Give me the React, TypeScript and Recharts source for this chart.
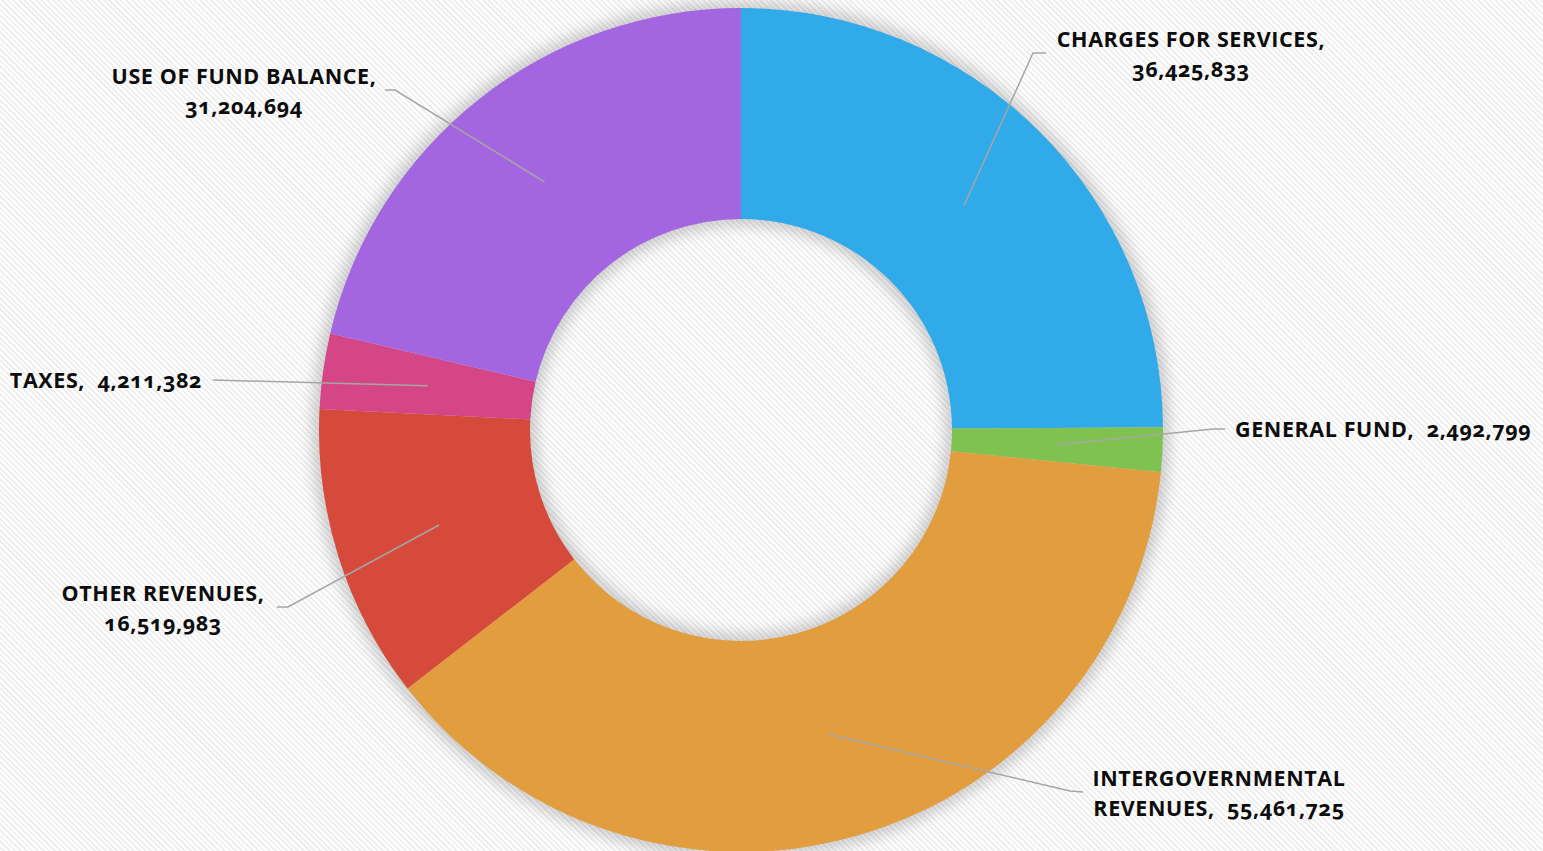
import React from "react";
import { PieChart, Pie, Cell } from "recharts";

const CATEGORIES = [
  "CHARGES FOR SERVICES",
  "GENERAL FUND",
  "INTERGOVERNMENTAL REVENUES",
  "OTHER REVENUES",
  "TAXES",
  "USE OF FUND BALANCE",
];
const AMOUNTS = [36425833, 2492799, 55461725, 16519983, 4211382, 31204694];
const COLORS = ["#31AAE9", "#80C250", "#E29D3F", "#D54A3A", "#D54687", "#A466E0"];

// label placement, relative to the donut centre
// split: "value" = value on second line, "word" = break after first word, "none" = one line
const LABEL_LAYOUT = [
  { elbow: [292, -377], end: [305, -377], text: [450, -383], anchor: "middle", split: "value" },
  { elbow: [472, -1], end: [484, -1], text: [494, 7], anchor: "start", split: "none" },
  { elbow: [329, 361], end: [342, 362], text: [478, 356], anchor: "middle", split: "word" },
  { elbow: [-453, 177], end: [-464, 177], text: [-578, 171], anchor: "middle", split: "value" },
  { elbow: [-528, -50], end: [-528, -50], text: [-539, -42], anchor: "end", split: "none" },
  { elbow: [-346, -340], end: [-356, -340], text: [-497, -346], anchor: "middle", split: "value" },
];

const data = CATEGORIES.map((name, i) => ({ name, value: AMOUNTS[i] }));
const ring = [{ name: "ring", value: 1 }];

const fmt = (v: number) => v.toLocaleString("en-US");
const RAD = Math.PI / 180;

const renderLabel = (props: any) => {
  const { cx, cy, midAngle, innerRadius, outerRadius, name, value } = props;
  const i = CATEGORIES.indexOf(name);
  const lay = LABEL_LAYOUT[i];
  if (!lay) return null;
  const r = (innerRadius + outerRadius) / 2;
  const sx = cx + r * Math.cos(-midAngle * RAD);
  const sy = cy + r * Math.sin(-midAngle * RAD);
  const ex = cx + lay.elbow[0];
  const ey = cy + lay.elbow[1];
  const hx = cx + lay.end[0];
  const hy = cy + lay.end[1];
  const tx = cx + lay.text[0];
  const ty = cy + lay.text[1];

  let lines: string[];
  if (lay.split === "value") lines = [`${name},`, fmt(value)];
  else if (lay.split === "word") {
    const [first, ...rest] = name.split(" ");
    lines = [first, `${rest.join(" ")},\u00a0 ${fmt(value)}`];
  } else lines = [`${name},\u00a0 ${fmt(value)}`];

  return (
    <g>
      <polyline
        points={`${sx},${sy} ${ex},${ey} ${hx},${hy}`}
        fill="none"
        stroke="#A6A6A6"
        strokeWidth={1.5}
      />
      <text
        x={tx}
        y={ty}
        textAnchor={lay.anchor}
        fill="#0D0D0D"
        fontFamily="'Open Sans', sans-serif"
        fontWeight={700}
        fontSize={21.5}
        letterSpacing={0.6}
        style={{ fontVariantNumeric: "oldstyle-nums" }}
      >
        {lines.map((ln, k) => (
          <tspan key={k} x={tx} dy={k === 0 ? 0 : 30}>
            {ln}
          </tspan>
        ))}
      </text>
    </g>
  );
};

export default function App() {
  return (
    <div
      style={{
        width: 1543,
        height: 851,
        overflow: "hidden",
        background:
          "repeating-linear-gradient(45deg, #ffffff 0px, #ffffff 2px, #efefef 2px, #efefef 4px)",
      }}
    >
      <style>{`body{margin:0} .ring-shadow path{filter:blur(7px)}`}</style>
      <PieChart width={1543} height={851} margin={{ top: 0, right: 0, bottom: 0, left: 0 }}>
        <Pie
          className="ring-shadow"
          data={ring}
          dataKey="value"
          cx={741}
          cy={430}
          innerRadius={204}
          outerRadius={429}
          startAngle={90}
          endAngle={-270}
          stroke="none"
          fill="rgba(0,0,0,0.18)"
          isAnimationActive={false}
          label={false}
          labelLine={false}
        />
        <Pie
          data={data}
          dataKey="value"
          nameKey="name"
          cx={741}
          cy={430}
          innerRadius={211}
          outerRadius={422}
          startAngle={90}
          endAngle={-270}
          stroke="none"
          isAnimationActive={false}
          label={renderLabel}
          labelLine={false}
        >
          {data.map((d, i) => (
            <Cell key={d.name} fill={COLORS[i]} />
          ))}
        </Pie>
      </PieChart>
    </div>
  );
}
